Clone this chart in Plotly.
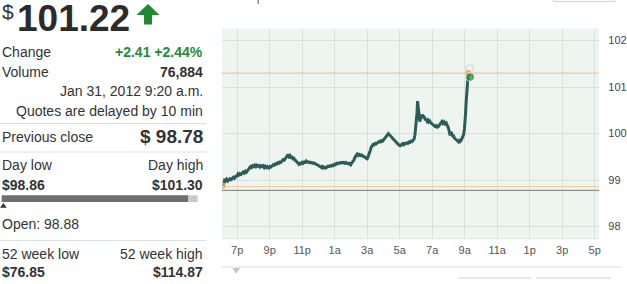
import plotly.graph_objects as go

W, H = 627, 284

# ---------------- data ----------------
times = ["18:10","18:11","18:14","18:17","18:21","18:25","18:29","18:33","18:37","18:42","18:46","18:50","18:55",
"19:00","19:03","19:06","19:10","19:14","19:18","19:22","19:26","19:30","19:34","19:37","19:40","19:43","19:46","19:49","19:53","19:57",
"20:01","20:05","20:09","20:13","20:17","20:20","20:24","20:28","20:32","20:36","20:40","20:44","20:48","20:52","20:57",
"21:01","21:05","21:09","21:13","21:17","21:21","21:25","21:29","21:33","21:37","21:41","21:46","21:50","21:54","21:58",
"22:02","22:05","22:08","22:11","22:14","22:17","22:21","22:25","22:29","22:33","22:37","22:41","22:45","22:48","22:51","22:55","22:59",
"23:03","23:07","23:11","23:15","23:18","23:22","23:26","23:30","23:35","23:39","23:43","23:47","23:52","23:56",
"00:00","00:04","00:08","00:11","00:14","00:18","00:22","00:27","00:31","00:35","00:39","00:43","00:47","00:51","00:55","00:59",
"01:03","01:07","01:11","01:15","01:19","01:24","01:28","01:32","01:37","01:41","01:46","01:50","01:54","01:59",
"02:03","02:07","02:11","02:14","02:17","02:20","02:23","02:27","02:31","02:35","02:39","02:43","02:48","02:52","02:56",
"03:00","03:03","03:06","03:09","03:12","03:15","03:18","03:22","03:26","03:30","03:33","03:36","03:40","03:44","03:49","03:53","03:57",
"04:01","04:05","04:08","04:12","04:15","04:18","04:21","04:24","04:28","04:32","04:35","04:38","04:42","04:46","04:50","04:54","04:58",
"05:02","05:06","05:10","05:14","05:18","05:22","05:26","05:30","05:34","05:38","05:42","05:46","05:50","05:53","05:56","05:58",
"06:00","06:02","06:04","06:06","06:08","06:10","06:12","06:14","06:16","06:19","06:22","06:25","06:28","06:31","06:35","06:38","06:41","06:44","06:47","06:51","06:55","06:59",
"07:03","07:07","07:11","07:15","07:19","07:24","07:28","07:32","07:36","07:40","07:44","07:48","07:52","07:56",
"08:00","08:03","08:06","08:09","08:12","08:15","08:18","08:21","08:25","08:29","08:33","08:37","08:40","08:43","08:47","08:50","08:53","08:56","08:59",
"09:01","09:03","09:05","09:07","09:09","09:11","09:13","09:16","09:20"]

prices = [98.88,98.97,99.00,98.99,99.02,98.98,99.00,99.03,99.01,99.03,99.06,99.04,99.08,
99.09,99.13,99.11,99.14,99.12,99.15,99.17,99.15,99.19,99.17,99.19,99.23,99.25,99.27,99.29,99.27,99.31,
99.29,99.32,99.29,99.32,99.30,99.31,99.28,99.31,99.29,99.31,99.27,99.30,99.27,99.29,99.26,
99.29,99.28,99.31,99.33,99.32,99.35,99.34,99.37,99.36,99.39,99.38,99.41,99.44,99.43,99.47,
99.50,99.53,99.55,99.51,99.53,99.49,99.50,99.46,99.47,99.43,99.42,99.38,99.37,99.34,99.36,99.35,99.38,
99.36,99.39,99.38,99.41,99.39,99.38,99.39,99.37,99.38,99.36,99.37,99.35,99.34,99.33,
99.31,99.30,99.29,99.27,99.29,99.26,99.28,99.26,99.28,99.30,99.29,99.31,99.30,99.32,99.31,99.34,
99.33,99.36,99.35,99.37,99.36,99.38,99.37,99.38,99.36,99.38,99.36,99.35,99.36,99.33,
99.37,99.40,99.43,99.48,99.51,99.55,99.56,99.53,99.55,99.53,99.54,99.52,99.51,99.49,99.47,
99.46,99.50,99.54,99.60,99.65,99.71,99.75,99.77,99.76,99.79,99.78,99.80,99.81,99.83,99.82,99.85,99.84,
99.87,99.89,99.93,99.96,99.98,100.00,99.98,99.97,99.94,99.91,99.89,99.86,99.84,99.81,99.79,99.77,99.75,
99.74,99.77,99.78,99.76,99.79,99.78,99.80,99.79,99.82,99.81,99.84,99.83,99.86,99.88,99.96,100.06,
100.16,100.24,100.45,100.70,100.60,100.50,100.35,100.26,100.30,100.40,100.38,100.34,100.37,100.35,100.29,100.32,100.27,100.29,100.25,100.27,100.23,100.21,
100.18,100.16,100.15,100.17,100.14,100.16,100.20,100.24,100.26,100.22,100.25,100.21,100.23,100.17,
100.12,100.04,99.96,100.03,100.01,99.94,99.97,99.91,99.89,99.86,99.84,99.82,99.85,99.83,99.86,99.90,99.93,99.98,100.10,
100.22,100.42,100.65,100.88,101.05,101.18,101.30,101.26,101.22]

prev_close = 98.78
day_low = 98.86
day_high = 101.30
last_price = 101.22

marker_times = ["18:10", "09:13", "09:20"]
marker_prices = [98.86, 101.30, 101.22]
marker_colors = ["#f0a050", "#f0a050", "#1c8a2e"]
marker_sizes = [6, 8, 9]
halo_times = ["09:19"]
halo_prices = [101.40]

tick_times = ["19:00","21:00","23:00","01:00","03:00","05:00","07:00","09:00","11:00","13:00","15:00","17:00"]
tick_labels = ["7p","9p","11p","1a","3a","5a","7a","9a","11a","1p","3p","5p"]
y_ticks = [98, 99, 100, 101, 102]

def stamp(hm):
    h = int(hm[:2])
    day = "2012-01-30" if h >= 18 else "2012-01-31"
    return f"{day} {hm}"

xs = [stamp(t) for t in times]

# ---------------- figure ----------------
FONT = "Liberation Sans, Arial, sans-serif"
fig = go.Figure()

fig.add_hline(y=day_high, line_color="#f2b98a", line_width=1)
fig.add_hline(y=day_low, line_color="#f2c9a0", line_width=1)
fig.add_hline(y=prev_close, line_color="#7a7a72", line_width=1)

fig.add_trace(go.Scatter(x=xs, y=prices, mode="lines",
                         line=dict(color="#2b5c58", width=3), hoverinfo="skip"))
fig.add_trace(go.Scatter(x=[stamp(t) for t in halo_times], y=halo_prices, mode="markers",
                         marker=dict(size=7, color="rgba(0,0,0,0)", line=dict(color="#d3dad7", width=1.2)),
                         hoverinfo="skip"))
fig.add_trace(go.Scatter(x=[stamp(t) for t in marker_times], y=marker_prices, mode="markers",
                         marker=dict(size=marker_sizes, color=marker_colors), hoverinfo="skip"))

def P(x, y):
    return x / W, 1 - y / H

x0d, x1d = 222.7 / W, 601 / W
y0d, y1d = 1 - 238.7 / H, 1 - 28.5 / H

fig.update_layout(
    width=W, height=H, margin=dict(l=0, r=0, t=0, b=0),
    paper_bgcolor="white", plot_bgcolor="#eef5f1", showlegend=False,
    font=dict(family=FONT, color="#333333"),
    xaxis=dict(type="date", domain=[x0d, x1d],
               range=["2012-01-30 18:04", "2012-01-31 17:16"],
               tickvals=[stamp(t) for t in tick_times], ticktext=tick_labels,
               showgrid=True, gridcolor="#d8e1dd", gridwidth=1, zeroline=False,
               showline=False, ticks="", ticklabelstandoff=3,
               tickfont=dict(size=11, color="#555555")),
    yaxis=dict(domain=[y0d, y1d], range=[97.74, 102.26], side="right",
               tickvals=y_ticks, ticktext=[str(v) for v in y_ticks],
               showgrid=True, gridcolor="#d8e1dd", gridwidth=1, zeroline=False,
               showline=False, ticks="outside", ticklen=6, tickcolor="rgba(0,0,0,0)",
               tickfont=dict(size=11, color="#444444")),
)

shapes = []
def line(xa, ya, xb, yb, color, width=1):
    (a, b), (c, d) = P(xa, ya), P(xb, yb)
    shapes.append(dict(type="line", xref="paper", yref="paper", x0=a, y0=b, x1=c, y1=d,
                       line=dict(color=color, width=width)))
def rect(xa, ya, xb, yb, fill, lc=None):
    (a, b), (c, d) = P(xa, ya), P(xb, yb)
    shapes.append(dict(type="rect", xref="paper", yref="paper", x0=a, y0=b, x1=c, y1=d,
                       fillcolor=fill, line=dict(color=lc or fill, width=1 if lc else 0)))
def path(pts, fill):
    s = "M " + " L ".join(f"{x / W},{1 - y / H}" for x, y in pts) + " Z"
    shapes.append(dict(type="path", xref="paper", yref="paper", path=s,
                       fillcolor=fill, line=dict(width=0)))

# chart frame
line(222.3, 0, 222.3, 281, "#cfd3d2")
line(222.3, 28.5, 602, 28.5, "#d6dcd9")
line(601, 28.5, 601, 238.7, "#dfe6e3")
line(222.3, 238.7, 601, 238.7, "#dfe6e3")
line(222.3, 267, 624, 267, "#dcdfde")
# bits at the top / bottom edges
line(259, 0, 259, 4, "#555555")
rect(555, -6, 617, 1.5, "white", "#cfd3d2")
line(460, 278, 533, 278, "#cfd3d2")
line(538, 278, 613, 278, "#cfd3d2")
path([(233, 268), (241, 268), (237, 273.5)], "#bcc6ca")

# left panel separators
for yy in (123.5, 152, 240.5):
    line(0, yy, 207, yy, "#d9e1e0")

# day range bar
rect(1.7, 195.3, 189, 202, "#6e6e6e")
rect(189, 195.3, 198.3, 202, "#c9c9c9")
path([(0, 207.7), (3.4, 203), (6.8, 207.7)], "#333333")

# green up arrow
path([(137, 15), (148.5, 4), (160, 15), (152.5, 15), (152.5, 24.5), (144.5, 24.5), (144.5, 15)], "#1c8a2e")

fig.update_layout(shapes=shapes)

def txt(s, x, y, size=14, bold=False, color="#333333", anchor="left", family=FONT):
    px, py = P(x, y)
    fig.add_annotation(text=f"<b>{s}</b>" if bold else s, x=px, y=py, xref="paper", yref="paper",
                       xanchor=anchor, yanchor="middle", showarrow=False, borderpad=0,
                       font=dict(size=size, color=color, family=family))

RX = 205
txt("$", 1, 12, size=21)
txt("101.22", 16, 18.5, size=37, bold=True, color="#2b2b2b")
txt("Change", 1, 52)
txt("+2.41 +2.44%", RX, 52, bold=True, color="#238a3a", anchor="right")
txt("Volume", 1, 71.5)
txt("76,884", RX, 71.5, bold=True, anchor="right")
txt("Jan 31, 2012 9:20 a.m.", RX, 91, anchor="right")
txt("Quotes are delayed by 10 min", RX, 110.5, anchor="right")
txt("Previous close", 1, 136.5)
txt("$ 98.78", RX, 136, size=19, bold=True, anchor="right")
txt("Day low", 1, 165.3)
txt("Day high", RX, 165.3, anchor="right")
txt("$98.86", 1, 185.3, bold=True)
txt("$101.30", RX, 185.3, bold=True, anchor="right")
txt("Open: 98.88", 1, 224)
txt("52 week low", 1, 254)
txt("52 week high", RX, 254, anchor="right")
txt("$76.85", 1, 272, bold=True)
txt("$114.87", RX, 272, bold=True, anchor="right")

fig.write_html("out.html")
